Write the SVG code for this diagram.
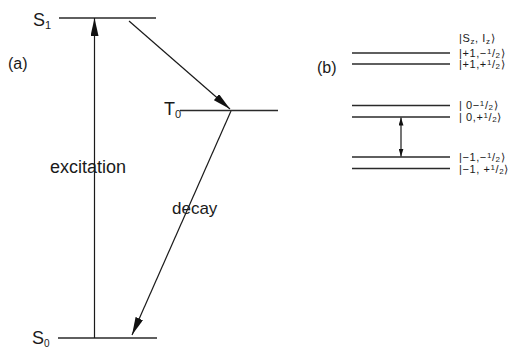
<svg xmlns="http://www.w3.org/2000/svg" width="510" height="348" viewBox="0 0 510 348">
<defs>
<style>
.lvl{stroke:#2a2a2a;stroke-width:1.4;fill:none}
.con{stroke:#1a1a1a;stroke-width:1.2;fill:none}
.lbl{font-family:"Liberation Sans",Arial,sans-serif;fill:#1a1a1a}
.big{font-size:18px}
.mid{font-size:16px}
.sm{font-size:11px;letter-spacing:0.6px}
</style>
<marker id="ah" viewBox="0 0 18 8" refX="18" refY="4" markerWidth="18" markerHeight="8" markerUnits="userSpaceOnUse" orient="auto">
<path d="M0,0 L18,4 L0,8 z" fill="#111"/>
</marker>
<marker id="ahs" viewBox="0 0 8 5" refX="8" refY="2.5" markerWidth="8" markerHeight="5" markerUnits="userSpaceOnUse" orient="auto-start-reverse">
<path d="M0,0 L8,2.5 L0,5 z" fill="#111"/>
</marker>
</defs>
<rect width="510" height="348" fill="#fff"/>

<text class="lbl mid" x="8" y="69">(a)</text>
<text class="lbl mid" x="317" y="73">(b)</text>

<g id="S1">
<line class="lvl" x1="59" y1="18" x2="156" y2="18"/>
<text class="lbl big" x="33" y="26">S<tspan font-size="11" dy="3">1</tspan></text>
</g>
<g id="T0">
<line class="lvl" x1="180" y1="110.5" x2="278" y2="110.5"/>
<text class="lbl big" x="164" y="115">T<tspan font-size="11" dy="3">0</tspan></text>
</g>
<g id="S0">
<line class="lvl" x1="58" y1="338" x2="157" y2="338"/>
<text class="lbl big" x="32" y="344">S<tspan font-size="10" dy="3">0</tspan></text>
</g>

<g id="levels-b">
<line class="lvl" x1="352" y1="53" x2="450" y2="53"/>
<line class="lvl" x1="352" y1="64" x2="450" y2="64"/>
<line class="lvl" x1="352" y1="105.5" x2="450" y2="105.5"/>
<line class="lvl" x1="352" y1="117" x2="450" y2="117"/>
<line class="lvl" x1="352" y1="157" x2="450" y2="157"/>
<line class="lvl" x1="352" y1="168.5" x2="450" y2="168.5"/>
</g>

<g id="labels-b" class="lbl sm">
<text x="459" y="41.5">|S<tspan font-size="8" dy="2">z</tspan><tspan dy="-2">, I</tspan><tspan font-size="8" dy="2">z</tspan><tspan dy="-2">⟩</tspan></text>
<text x="459" y="56.5">|+1,−<tspan font-size="8" dy="-3">1</tspan><tspan dy="3">/</tspan><tspan font-size="8" dy="1">2</tspan><tspan dy="-1">⟩</tspan></text>
<text x="459" y="67.5">|+1,+<tspan font-size="8" dy="-3">1</tspan><tspan dy="3">/</tspan><tspan font-size="8" dy="1">2</tspan><tspan dy="-1">⟩</tspan></text>
<text x="459" y="109">| 0−<tspan font-size="8" dy="-3">1</tspan><tspan dy="3">/</tspan><tspan font-size="8" dy="1">2</tspan><tspan dy="-1">⟩</tspan></text>
<text x="459" y="121">| 0,+<tspan font-size="8" dy="-3">1</tspan><tspan dy="3">/</tspan><tspan font-size="8" dy="1">2</tspan><tspan dy="-1">⟩</tspan></text>
<text x="459" y="160.5">|−1,−<tspan font-size="8" dy="-3">1</tspan><tspan dy="3">/</tspan><tspan font-size="8" dy="1">2</tspan><tspan dy="-1">⟩</tspan></text>
<text x="459" y="172.5">|−1, +<tspan font-size="8" dy="-3">1</tspan><tspan dy="3">/</tspan><tspan font-size="8" dy="1">2</tspan><tspan dy="-1">⟩</tspan></text>
</g>

<g id="connectors">
<line class="con" x1="94.5" y1="338" x2="94.5" y2="18" marker-end="url(#ah)"/>
<line class="con" x1="129" y1="21" x2="230" y2="109" marker-end="url(#ah)"/>
<line class="con" x1="231" y1="111" x2="132" y2="335" marker-end="url(#ah)"/>
<line class="con" x1="401" y1="117.5" x2="401" y2="156.5" marker-start="url(#ahs)" marker-end="url(#ahs)"/>
</g>

<text class="lbl big" x="50" y="173">excitation</text>
<text class="lbl" font-size="17" x="172" y="214">decay</text>
</svg>
